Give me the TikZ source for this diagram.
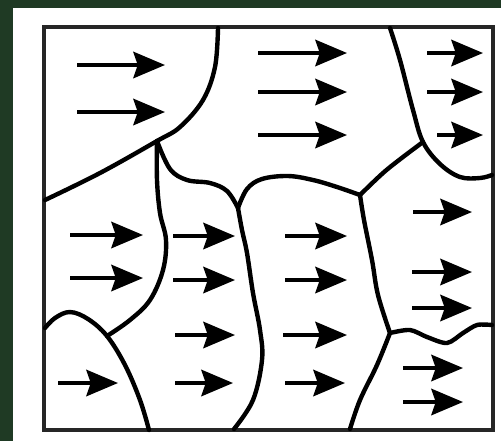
\documentclass[tikz,border=0pt]{standalone}
\usepackage{tikz}
\usetikzlibrary{arrows.meta}
\definecolor{bggreen}{RGB}{31,58,36}

\begin{document}
\begin{tikzpicture}[
  x=0.02cm,y=-0.02cm,
  frame/.style={draw=black!85,line width=2pt},
  gb/.style={draw=black,line width=2.5pt,line cap=round,line join=round},
  flow/.style={-{Stealth[length=18pt,width=15pt,inset=2.5pt]},line width=2.2pt}
]
\useasboundingbox (0,0) rectangle (501,441);
\fill[bggreen] (0,0) rectangle (501,441);
\fill[white] (13,8) rectangle (501,441);
\draw[frame] (44,27) rectangle (493,430);
% triple points
\coordinate (j1) at (157,141);
\coordinate (j2) at (107,336);
\coordinate (j3) at (238,208);
\coordinate (j4) at (360,195);
\coordinate (j5) at (423,142);
\coordinate (j6) at (390,333);
% grain boundaries
\draw[gb] plot[smooth,tension=0.6] coordinates
  {(218,28) (215,67) (203,100) (180,127) (j1) (100,173) (45,200)};
\draw[gb] plot[smooth,tension=0.6] coordinates
  {(j1) (157,180) (160,213) (166,240) (163,270) (150,300) (130,320) (j2)};
\draw[gb] plot[smooth,tension=0.6] coordinates
  {(45,328) (55,318) (70,312) (88,319) (j2) (125,365) (140,400) (149,430)};
\draw[gb] plot[smooth,tension=0.6] coordinates
  {(j1) (170,169) (187,180) (210,183) (227,191) (j3)};
\draw[gb] plot[smooth,tension=0.6] coordinates
  {(j3) (247,189) (262,179) (288,176) (313,180) (337,187) (j4)};
\draw[gb] plot[smooth,tension=0.6] coordinates
  {(j4) (383,173) (403,157) (j5)};
\draw[gb] plot[smooth,tension=0.6] coordinates
  {(390,28) (400,60) (413,110) (j5) (440,164) (460,177) (480,178) (492,175)};
\draw[gb] plot[smooth,tension=0.6] coordinates
  {(j3) (242,230) (247,253) (253,293) (260,330) (262,360) (253,400) (234,429)};
\draw[gb] plot[smooth,tension=0.6] coordinates
  {(j4) (364,220) (372,260) (378,295) (j6)};
\draw[gb] plot[smooth,tension=0.6] coordinates
  {(j6) (377,365) (360,400) (350,429)};
\draw[gb] plot[smooth,tension=0.5] coordinates
  {(j6) (410,330) (427,337) (447,343) (463,333) (477,325) (492,325)};
% magnetisation arrows
\foreach \xa/\xb/\yy in {77/165/65, 77/165/112,
    258/347/53, 258/347/92, 258/347/135,
    427/483/53, 427/483/92, 437/483/135,
    70/143/235, 70/143/278, 58/118/383,
    173/235/236, 173/235/280, 175/235/335, 175/233/383,
    285/347/236, 285/347/280, 283/347/335, 285/345/383,
    413/472/212, 412/472/272, 412/472/308,
    403/463/368, 403/463/402}
  \draw[flow] (\xa,\yy) -- (\xb,\yy);
\end{tikzpicture}
\end{document}
